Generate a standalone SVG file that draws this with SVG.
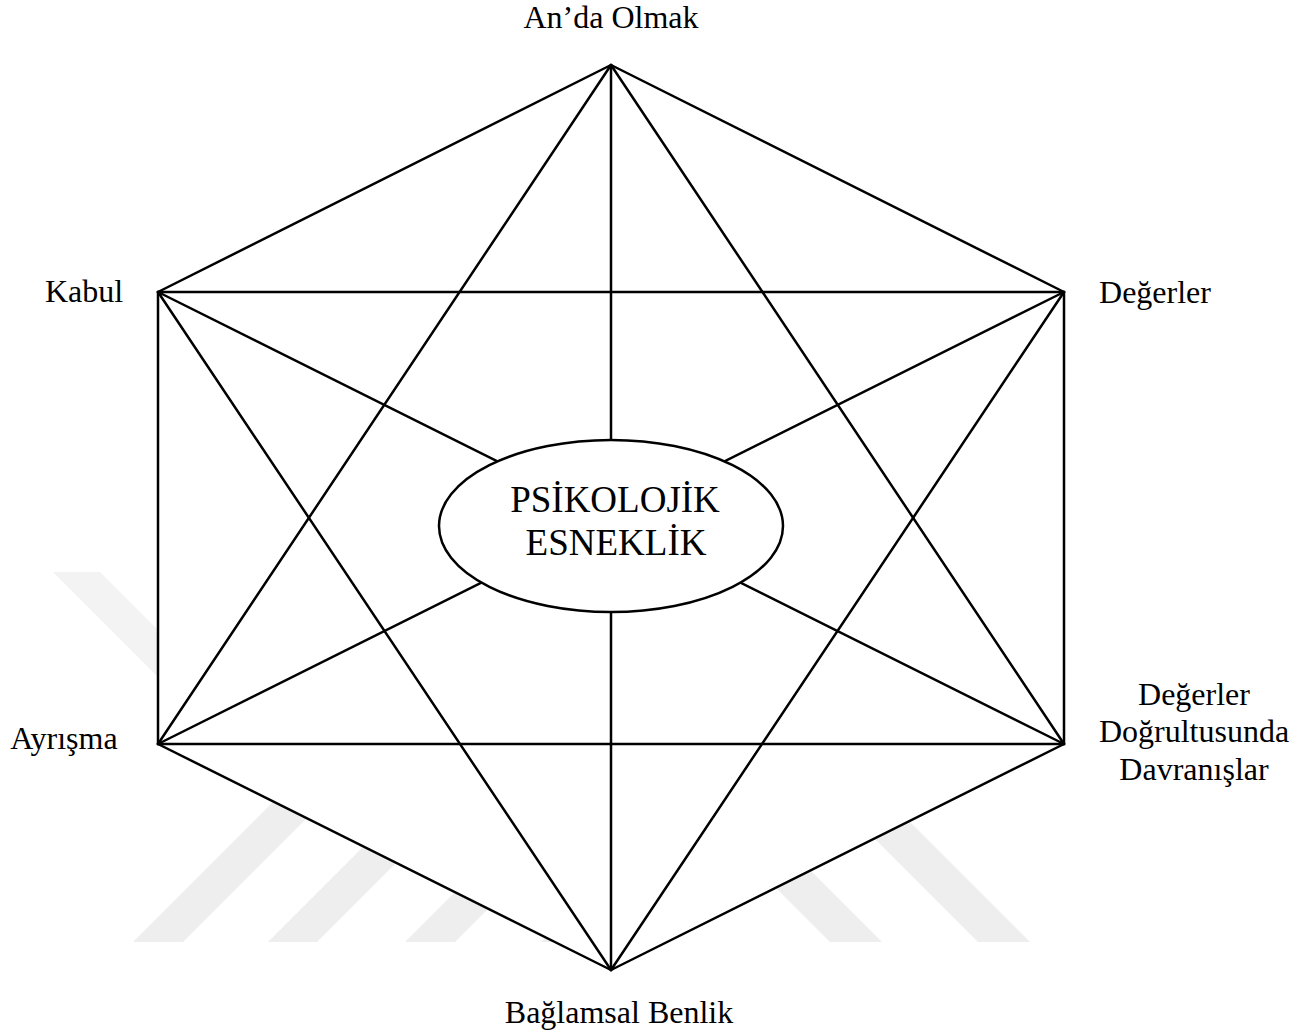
<svg xmlns="http://www.w3.org/2000/svg" width="1312" height="1034" viewBox="0 0 1312 1034">
  <style>
    .wm { fill: #eeeeee; }
    .edge { stroke: #000; stroke-width: 2.5; fill: none; stroke-linecap: round; }
    .lbl { font-family: "Liberation Serif", "Times New Roman", serif; font-size: 32px; fill: #000; text-anchor: middle; }
    .ctr { font-family: "Liberation Serif", "Times New Roman", serif; font-size: 37px; fill: #000; text-anchor: middle; }
  </style>
  <rect x="0" y="0" width="1312" height="1034" fill="#fff"/>
  <g id="watermark">
    <polygon points="53,572 100,572 300,772 253,772" fill="#f3f3f3"/>
    <polygon class="wm" points="133,942 183,942 383,742 333,742"/>
    <polygon class="wm" points="268,942 317,942 517,742 468,742"/>
    <polygon class="wm" points="405,942 455,942 655,742 605,742"/>
    <polygon class="wm" points="541,942 591,942 791,742 741,742"/>
    <polygon class="wm" points="830,942 882,942 682,742 630,742"/>
    <polygon class="wm" points="978,942 1030,942 830,742 778,742"/>
    <polygon points="611,65 1064,292 1064,744 611,970 158,744 158,292" fill="#fff"/>
  </g>
  <g id="connectors">
    <line class="edge" x1="611" y1="65" x2="158" y2="292"/>
    <line class="edge" x1="611" y1="65" x2="1064" y2="292"/>
    <line class="edge" x1="611" y1="65" x2="158" y2="744"/>
    <line class="edge" x1="611" y1="65" x2="1064" y2="744"/>
    <line class="edge" x1="611" y1="65" x2="611" y2="970"/>
    <line class="edge" x1="158" y1="292" x2="1064" y2="292"/>
    <line class="edge" x1="158" y1="292" x2="158" y2="744"/>
    <line class="edge" x1="158" y1="292" x2="1064" y2="744"/>
    <line class="edge" x1="158" y1="292" x2="611" y2="970"/>
    <line class="edge" x1="1064" y1="292" x2="158" y2="744"/>
    <line class="edge" x1="1064" y1="292" x2="1064" y2="744"/>
    <line class="edge" x1="1064" y1="292" x2="611" y2="970"/>
    <line class="edge" x1="158" y1="744" x2="1064" y2="744"/>
    <line class="edge" x1="158" y1="744" x2="611" y2="970"/>
    <line class="edge" x1="1064" y1="744" x2="611" y2="970"/>
  </g>
  <g id="node-center">
    <ellipse cx="611" cy="526" rx="172" ry="86" fill="#fff" stroke="#000" stroke-width="2.5"/>
    <text class="ctr" x="615" y="512">PSİKOLOJİK</text>
    <text class="ctr" x="616" y="555">ESNEKLİK</text>
  </g>
  <g id="node-an-da-olmak">
    <text class="lbl" x="611" y="28">An’da Olmak</text>
  </g>
  <g id="node-kabul">
    <text class="lbl" x="84" y="302">Kabul</text>
  </g>
  <g id="node-degerler">
    <text class="lbl" x="1155" y="303">Değerler</text>
  </g>
  <g id="node-ayrisma">
    <text class="lbl" x="64" y="749">Ayrışma</text>
  </g>
  <g id="node-degerler-dogrultusunda">
    <text class="lbl" x="1194" y="705">Değerler</text>
    <text class="lbl" x="1194" y="742">Doğrultusunda</text>
    <text class="lbl" x="1194" y="780">Davranışlar</text>
  </g>
  <g id="node-baglamsal-benlik">
    <text class="lbl" x="619" y="1023">Bağlamsal Benlik</text>
  </g>
</svg>
